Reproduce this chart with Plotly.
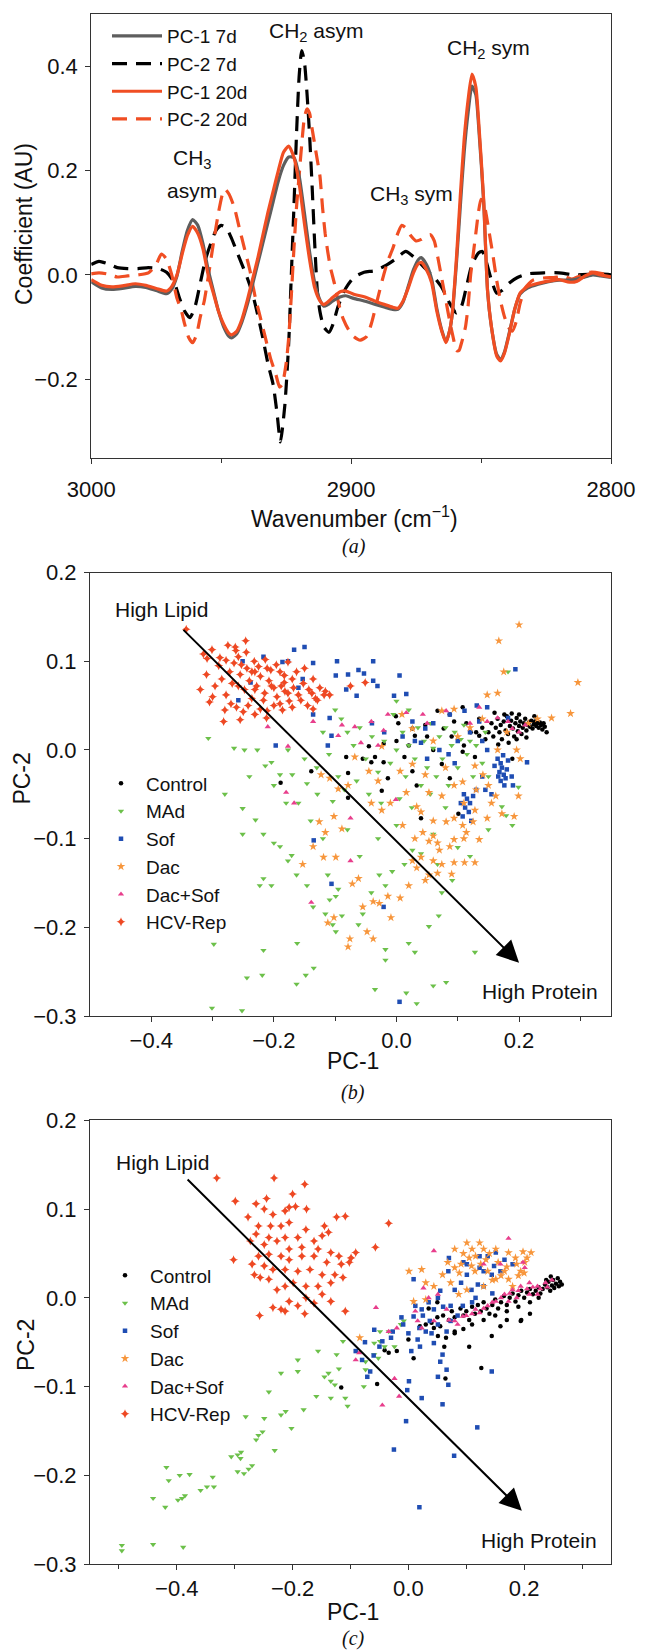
import plotly.graph_objects as go

FONT = "Liberation Sans, Arial, sans-serif"
W, H = 646, 1652

# ---------------- Panel (a): PCA loadings (wavenumber, coefficient) ----------------
pc1_7d = [(3000, -0.013), (2996, -0.025), (2992, -0.028), (2988, -0.026), (2983, -0.022), (2979, -0.024),
          (2975, -0.030), (2971, -0.036), (2969, -0.027), (2967, -0.002), (2965, 0.045), (2963, 0.085),
          (2961, 0.106), (2959, 0.095), (2957, 0.060), (2955, 0.010), (2953, -0.030), (2951, -0.070),
          (2949, -0.100), (2947, -0.118), (2946, -0.121), (2944, -0.113), (2942, -0.090), (2940, -0.058),
          (2938, -0.020), (2936, 0.020), (2934, 0.060), (2932, 0.100), (2930, 0.140), (2928, 0.180),
          (2926, 0.210), (2924, 0.226), (2922, 0.225), (2920, 0.190), (2918, 0.120), (2916, 0.045),
          (2914, -0.015), (2912, -0.048), (2910.5, -0.060), (2909, -0.057), (2907, -0.050), (2904, -0.042),
          (2902, -0.040), (2899, -0.045), (2895, -0.050), (2891, -0.056), (2887, -0.062), (2884, -0.066),
          (2882, -0.066), (2880, -0.052), (2878, -0.022), (2876, 0.010), (2874, 0.030), (2873, 0.033),
          (2871, 0.020), (2869, -0.008), (2867, -0.065), (2865, -0.108), (2863.5, -0.128), (2862, -0.105),
          (2861, -0.072), (2859.5, 0.020), (2858, 0.130), (2856.5, 0.235), (2855, 0.310), (2853.5, 0.362),
          (2852, 0.345), (2851, 0.290), (2849, 0.140), (2847.5, -0.030), (2846, -0.100), (2844, -0.152),
          (2842.5, -0.162), (2841, -0.148), (2839, -0.108), (2837, -0.065), (2835, -0.037), (2832, -0.025),
          (2828, -0.018), (2824, -0.013), (2820, -0.010), (2816, -0.010), (2813, -0.008), (2810, -0.004),
          (2807, 0.000), (2804, -0.002), (2800, -0.005)]

pc2_7d = [(3000, 0.020), (2997, 0.026), (2994, 0.022), (2990, 0.014), (2986, 0.012), (2982, 0.012),
          (2978, 0.014), (2974, 0.012), (2971, 0.005), (2968, -0.015), (2966, -0.045), (2964, -0.070),
          (2962, -0.082), (2960, -0.060), (2958, -0.015), (2956, 0.030), (2954, 0.060), (2952, 0.085),
          (2950, 0.095), (2948, 0.090), (2946, 0.070), (2944, 0.045), (2942, 0.020), (2940, -0.005),
          (2938, -0.035), (2936, -0.075), (2934, -0.120), (2932, -0.170), (2930, -0.210), (2928.5, -0.265),
          (2927.2, -0.320), (2925.5, -0.250), (2924, -0.130), (2923, 0.000), (2922, 0.130), (2921, 0.270),
          (2920, 0.380), (2919, 0.430), (2918, 0.410), (2917, 0.350), (2916, 0.270), (2915, 0.170),
          (2914, 0.060), (2913, -0.030), (2912, -0.070), (2910.5, -0.100), (2908.5, -0.110), (2907, -0.095),
          (2905, -0.060), (2902, -0.025), (2899, -0.005), (2895, 0.005), (2891, 0.008), (2887, 0.017),
          (2883, 0.030), (2879, 0.045), (2876, 0.035), (2872, 0.015), (2868, -0.005), (2865, -0.025),
          (2862, -0.055), (2859.5, -0.073), (2857.5, -0.060), (2855.5, -0.020), (2853.5, 0.020), (2851, 0.042),
          (2849.5, 0.045), (2848, 0.025), (2846, -0.010), (2844, -0.035), (2842, -0.030), (2839, -0.015),
          (2836, -0.005), (2832, 0.002), (2826, 0.004), (2820, 0.004), (2814, 0.000), (2808, 0.001),
          (2804, 0.002), (2800, 0.000)]

pc1_20d = [(3000, -0.009), (2996, -0.020), (2992, -0.023), (2988, -0.021), (2983, -0.017), (2979, -0.020),
           (2975, -0.026), (2971, -0.031), (2969, -0.022), (2967, 0.000), (2965, 0.040), (2963, 0.075),
           (2961, 0.093), (2959, 0.080), (2957, 0.050), (2955, 0.000), (2953, -0.035), (2951, -0.070),
           (2949, -0.095), (2947, -0.112), (2946, -0.115), (2944, -0.108), (2942, -0.085), (2940, -0.050),
           (2938, -0.010), (2936, 0.030), (2934, 0.075), (2932, 0.120), (2930, 0.160), (2928, 0.200),
           (2926, 0.235), (2924, 0.247), (2922, 0.225), (2920, 0.175), (2918, 0.100), (2916, 0.030),
           (2914, -0.025), (2912, -0.050), (2910.5, -0.057), (2909, -0.052), (2907, -0.043), (2904, -0.032),
           (2902, -0.031), (2899, -0.037), (2895, -0.042), (2891, -0.050), (2887, -0.057), (2884, -0.062),
           (2882, -0.064), (2880, -0.050), (2878, -0.025), (2876, 0.004), (2874, 0.022), (2873, 0.024),
           (2871, 0.010), (2869, -0.015), (2867, -0.070), (2865, -0.110), (2863.5, -0.130), (2862, -0.105),
           (2861, -0.070), (2859.5, 0.030), (2858, 0.150), (2856.5, 0.260), (2855, 0.335), (2853.5, 0.385),
           (2852, 0.360), (2851, 0.300), (2849, 0.145), (2847.5, -0.030), (2846, -0.100), (2844, -0.155),
           (2842.5, -0.165), (2841, -0.150), (2839, -0.110), (2837, -0.065), (2835, -0.035), (2832, -0.022),
           (2828, -0.016), (2824, -0.012), (2820, -0.009), (2816, -0.014), (2813, -0.012), (2810, -0.002),
           (2807, 0.004), (2804, 0.000), (2800, -0.004)]

pc2_20d = [(3000, 0.002), (2997, 0.004), (2994, 0.002), (2990, -0.004), (2986, -0.002), (2982, 0.000),
           (2978, 0.004), (2975, 0.020), (2973, 0.040), (2971, 0.030), (2969, 0.000), (2967, -0.045),
           (2965.5, -0.065), (2964, -0.095), (2962.5, -0.120), (2961, -0.130), (2959.5, -0.115), (2958, -0.080),
           (2956.5, -0.050), (2955, -0.005), (2953, 0.060), (2951, 0.120), (2949.5, 0.155), (2948.5, 0.164),
           (2947, 0.155), (2945, 0.130), (2943, 0.090), (2941, 0.050), (2939, 0.010), (2937, -0.040),
           (2935, -0.080), (2933, -0.120), (2931, -0.160), (2929, -0.190), (2927.5, -0.215), (2926.5, -0.210),
           (2925, -0.170), (2924, -0.120), (2923, -0.040), (2922, 0.050), (2921, 0.130), (2920, 0.190),
           (2919, 0.250), (2918, 0.300), (2917, 0.318), (2916, 0.310), (2915, 0.280), (2914, 0.250),
           (2913, 0.220), (2912, 0.190), (2911, 0.130), (2910, 0.080), (2909, 0.045), (2908, 0.015),
           (2907, -0.005), (2906, -0.025), (2905, -0.050), (2904, -0.070), (2903, -0.085), (2901, -0.105),
           (2899, -0.118), (2896.5, -0.125), (2894, -0.118), (2892, -0.090), (2890, -0.050), (2888, -0.010),
           (2886, 0.025), (2884, 0.050), (2882, 0.080), (2880.5, 0.095), (2879, 0.090), (2877, 0.075),
           (2875, 0.065), (2873, 0.068), (2871, 0.075), (2869.5, 0.077), (2868, 0.065), (2866.5, 0.030),
           (2865, -0.010), (2863.5, -0.050), (2862, -0.090), (2860.5, -0.125), (2859.5, -0.145), (2858.5, -0.145),
           (2857.5, -0.130), (2856, -0.100), (2855, -0.060), (2854, 0.000), (2853, 0.040), (2852, 0.080),
           (2851, 0.120), (2850, 0.145), (2849, 0.140), (2848, 0.115), (2847, 0.085), (2845.5, 0.040),
           (2844, -0.010), (2842.5, -0.050), (2841, -0.080), (2839.5, -0.100), (2838, -0.108), (2836.5, -0.090),
           (2835, -0.055), (2833, -0.025), (2830, -0.010), (2826, -0.006), (2822, -0.005), (2818, -0.003),
           (2815, -0.008), (2812, -0.002), (2808, 0.005), (2804, 0.003), (2800, -0.003)]

# ---------------- Panel (b): scores (PC-1, PC-2) ----------------
control_b = [(0.150, 0.020), (0.155, 0.030), (0.158, 0.015), (0.162, 0.025), (0.165, 0.035), (0.168, 0.020),
             (0.170, 0.028), (0.172, 0.012), (0.175, 0.032), (0.178, 0.022), (0.180, 0.038), (0.182, 0.018),
             (0.185, 0.027), (0.187, 0.033), (0.190, 0.024), (0.192, 0.015), (0.194, 0.030), (0.196, 0.036),
             (0.198, 0.021), (0.200, 0.027), (0.202, 0.032), (0.204, 0.018), (0.206, 0.025), (0.208, 0.030),
             (0.210, 0.035), (0.212, 0.022), (0.214, 0.028), (0.216, 0.031), (0.218, 0.026), (0.220, 0.033),
             (0.222, 0.024), (0.224, 0.029), (0.226, 0.032), (0.228, 0.027), (0.230, 0.030), (0.232, 0.025),
             (0.234, 0.031), (0.236, 0.028), (0.238, 0.023), (0.240, 0.030), (0.242, 0.026), (0.245, 0.020),
             (0.188, 0.041), (0.176, 0.040), (0.196, 0.012), (0.183, 0.008), (0.212, 0.014), (0.166, 0.006),
             (0.140, 0.025), (0.145, 0.012), (0.135, 0.035), (0.130, 0.020), (0.160, 0.042), (0.200, 0.040),
             (0.225, 0.038), (-0.082, -0.008), (-0.041, -0.014), (-0.035, -0.008), (-0.021, -0.014),
             (-0.045, 0.004), (-0.021, 0.007), (-0.001, 0.038), (0.003, 0.030), (0.026, 0.024), (0.030, 0.016),
             (0.047, 0.028), (0.067, 0.044), (0.077, 0.024), (0.087, 0.040), (0.094, 0.032), (0.108, 0.048),
             (0.114, 0.030), (0.121, 0.020), (0.135, 0.016), (0.060, 0.000), (0.074, -0.016), (0.087, -0.032),
             (0.033, -0.040), (0.040, -0.077), (0.101, -0.072), (-0.139, -0.024), (-0.189, -0.037),
             (-0.079, -0.026), (-0.079, -0.054), (-0.024, -0.046), (-0.014, -0.032), (0.013, -0.008),
             (0.026, -0.024), (0.108, -0.002), (0.128, -0.008), (0.189, -0.010), (0.000, 0.010), (0.020, 0.005),
             (0.050, 0.015), (0.090, 0.015), (0.110, 0.005), (-0.055, -0.010)]

mad_b = [(-0.307, 0.013), (-0.265, 0.002), (-0.248, 0.000), (-0.227, 0.000), (-0.204, -0.014), (-0.177, 0.000),
         (-0.214, -0.018), (-0.190, -0.028), (-0.170, -0.028), (-0.146, -0.038), (-0.129, -0.050), (-0.104, -0.058),
         (-0.251, -0.066), (-0.230, -0.079), (-0.251, -0.095), (-0.217, -0.095), (-0.200, -0.105), (-0.190, -0.109),
         (-0.171, -0.119), (-0.177, -0.125), (-0.163, -0.141), (-0.204, -0.153), (-0.217, -0.145), (-0.223, -0.153),
         (-0.146, -0.153), (-0.112, -0.141), (-0.095, -0.157), (-0.099, -0.165), (-0.109, -0.169), (-0.136, -0.177),
         (-0.116, -0.185), (-0.089, -0.187), (-0.104, -0.197), (-0.099, -0.205), (-0.062, -0.197), (-0.055, -0.185),
         (-0.041, -0.161), (-0.028, -0.141), (-0.018, -0.153), (-0.007, -0.137), (0.013, -0.129), (0.026, -0.113),
         (0.040, -0.117), (0.067, -0.129), (0.091, -0.147), (0.074, -0.161), (0.053, -0.199), (0.030, -0.228),
         (0.020, -0.218), (-0.018, -0.225), (0.016, -0.274), (-0.035, -0.270), (-0.018, -0.237), (0.060, -0.266),
         (0.081, -0.262), (0.033, -0.286), (0.128, -0.228), (0.069, -0.187), (-0.298, -0.219), (-0.244, -0.257),
         (-0.219, -0.254), (-0.217, -0.226), (-0.162, -0.218), (-0.163, -0.264), (-0.135, -0.246), (-0.148, -0.254),
         (-0.301, -0.291), (-0.252, -0.294), (0.189, -0.085), (0.179, -0.074), (0.172, -0.064), (0.199, -0.042),
         (0.182, 0.088), (-0.090, 0.035), (-0.080, 0.020), (-0.070, 0.005), (-0.060, 0.025), (-0.050, -0.010),
         (-0.040, 0.015), (-0.030, -0.025), (-0.020, 0.010), (-0.010, -0.015), (0.000, 0.000), (0.010, 0.020),
         (0.015, -0.030), (0.020, 0.005), (0.030, -0.010), (0.035, 0.025), (0.040, -0.040), (0.045, 0.010),
         (0.050, -0.020), (0.055, 0.030), (0.060, 0.002), (0.065, -0.030), (0.070, 0.015), (0.075, -0.010),
         (0.080, 0.025), (0.085, -0.040), (0.090, 0.005), (0.095, 0.020), (0.100, -0.020), (0.105, 0.012),
         (0.110, 0.028), (0.115, -0.005), (0.120, 0.010), (0.125, -0.030), (0.130, 0.005), (0.140, -0.015),
         (0.145, 0.020), (0.150, -0.030), (-0.095, -0.030), (-0.085, -0.045), (-0.065, -0.035), (-0.045, -0.050),
         (-0.025, -0.060), (0.005, -0.055), (0.025, -0.065), (0.055, -0.050), (0.080, -0.065), (-0.120, 0.020),
         (-0.110, -0.005), (-0.130, -0.020), (-0.100, 0.045), (0.000, 0.055), (-0.005, 0.040), (0.020, 0.045),
         (-0.150, -0.010), (-0.160, -0.060), (-0.140, -0.080), (-0.120, -0.100), (-0.080, -0.090), (-0.060, -0.120),
         (-0.030, -0.100), (0.000, -0.085), (0.060, -0.095), (0.100, -0.110), (0.150, -0.090), (0.120, -0.120),
         (-0.180, -0.060), (-0.200, -0.040), (-0.240, -0.030), (-0.280, -0.050)]

sof_b = [(-0.167, 0.113), (-0.150, 0.116), (-0.177, 0.100), (-0.186, 0.099), (-0.217, 0.105), (-0.251, 0.100),
         (-0.136, 0.098), (-0.097, 0.100), (-0.099, 0.084), (-0.079, 0.085), (-0.062, 0.090), (-0.053, 0.086),
         (-0.038, 0.100), (-0.038, 0.078), (-0.031, 0.072), (0.005, 0.084), (0.016, 0.063), (-0.004, 0.061),
         (-0.065, 0.061), (-0.082, 0.068), (-0.160, 0.070), (-0.153, 0.080), (-0.238, 0.076), (-0.258, 0.056),
         (-0.136, 0.040), (-0.112, 0.005), (-0.106, 0.016), (-0.109, 0.036), (-0.197, 0.005), (0.026, 0.032),
         (0.087, 0.040), (0.111, 0.044), (0.131, 0.050), (0.148, 0.048), (0.194, 0.091), (0.135, 0.032),
         (0.182, 0.036), (0.047, 0.024), (0.040, 0.008), (0.070, 0.000), (0.148, 0.000), (0.213, -0.014),
         (0.165, -0.010), (0.170, -0.015), (0.172, -0.020), (0.168, -0.025), (0.175, -0.028), (0.178, -0.032),
         (0.170, -0.035), (0.176, -0.040), (0.166, -0.030), (0.180, -0.022), (0.160, -0.018), (0.182, -0.012),
         (0.174, -0.006), (0.188, -0.030), (0.190, -0.040), (0.110, -0.050), (0.115, -0.055), (0.120, -0.060),
         (0.112, -0.065), (0.118, -0.070), (0.108, -0.075), (0.122, -0.080), (0.125, -0.052), (0.130, -0.045),
         (0.105, -0.060), (0.145, -0.045), (0.155, -0.050), (0.140, -0.030), (0.095, -0.015), (0.085, -0.005),
         (0.050, -0.010), (0.030, 0.010), (0.010, 0.015), (-0.020, 0.020), (-0.040, 0.030), (0.060, 0.030),
         (0.120, 0.020), (0.140, 0.010), (0.100, 0.010), (-0.135, -0.102), (-0.106, -0.151), (-0.021, -0.177),
         (0.005, -0.284)]

dac_b = [(0.200, 0.141), (0.167, 0.123), (0.175, 0.088), (0.296, 0.076), (0.284, 0.041), (0.253, 0.036),
         (0.165, 0.064), (0.148, 0.062), (0.094, 0.046), (0.074, 0.044), (0.026, 0.024), (0.009, 0.040),
         (-0.024, 0.004), (0.006, -0.024), (0.026, -0.016), (0.047, -0.028), (0.016, -0.048), (0.033, -0.064),
         (0.053, -0.048), (0.074, -0.052), (0.094, -0.040), (0.108, -0.036), (0.128, -0.018), (0.141, -0.028),
         (0.165, 0.000), (0.196, 0.000), (0.202, -0.010), (0.199, -0.052), (0.192, -0.075), (0.162, -0.052),
         (0.155, -0.060), (0.128, -0.068), (0.114, -0.093), (0.108, -0.085), (0.094, -0.077), (0.081, -0.081),
         (0.060, -0.097), (0.043, -0.093), (0.053, -0.103), (0.067, -0.105), (0.094, -0.101), (0.135, -0.101),
         (0.070, -0.113), (0.087, -0.109), (0.040, -0.121), (0.060, -0.125), (0.026, -0.125), (0.033, -0.133),
         (0.074, -0.129), (0.094, -0.127), (0.111, -0.127), (0.128, -0.127), (0.053, -0.141), (0.067, -0.139),
         (0.020, -0.153), (0.047, -0.147), (0.006, -0.167), (-0.014, -0.165), (-0.028, -0.173), (-0.038, -0.171),
         (-0.072, -0.151), (-0.062, -0.145), (-0.055, -0.177), (-0.102, -0.189), (-0.112, -0.195), (-0.076, -0.213),
         (-0.079, -0.222), (-0.048, -0.205), (-0.038, -0.213), (-0.009, -0.189), (-0.126, -0.081), (-0.102, -0.075),
         (-0.089, -0.089), (-0.116, -0.093), (-0.136, -0.109), (-0.153, -0.129), (-0.119, -0.121), (-0.099, -0.121),
         (-0.123, -0.028), (-0.109, -0.032), (-0.095, -0.044), (-0.079, -0.040), (-0.041, -0.060), (-0.024, -0.068),
         (-0.068, -0.008), (-0.045, -0.024), (0.125, -0.081), (0.148, -0.077), (0.172, -0.072), (0.120, 0.025),
         (0.140, 0.035), (0.100, 0.015), (0.060, 0.010), (0.180, 0.020), (0.215, 0.030), (0.230, 0.035),
         (0.110, -0.060), (0.130, -0.045), (0.150, -0.040), (0.080, -0.020), (0.040, -0.070), (0.060, -0.080),
         (0.030, -0.100), (0.010, -0.085), (-0.010, -0.060), (-0.030, -0.035), (0.090, -0.140), (0.110, -0.100)]

dacsof_b = [(-0.210, 0.026), (-0.177, 0.004), (-0.180, -0.048), (-0.167, -0.060), (-0.136, 0.032), (-0.089, 0.028),
            (-0.068, 0.026), (-0.041, 0.032), (-0.021, 0.022), (-0.014, 0.040), (0.043, 0.040), (0.050, 0.030),
            (0.135, 0.048), (0.165, 0.036), (0.182, 0.032), (0.189, 0.024), (-0.058, 0.008), (-0.075, -0.077),
            (-0.001, -0.056), (0.081, 0.044), (0.148, 0.032), (-0.139, -0.172), (-0.075, -0.125), (-0.095, 0.016),
            (0.016, 0.042), (0.200, 0.020), (0.210, 0.028), (0.120, 0.030), (-0.030, 0.005)]

hcv_b = [(-0.343, 0.136), (-0.246, 0.123), (-0.263, 0.116), (-0.301, 0.113), (-0.315, 0.108), (-0.309, 0.103),
         (-0.278, 0.101), (-0.253, 0.096), (-0.244, 0.092), (-0.231, 0.088), (-0.211, 0.092), (-0.177, 0.099),
         (-0.163, 0.088), (-0.183, 0.084), (-0.150, 0.092), (-0.136, 0.080), (-0.116, 0.066), (-0.109, 0.062),
         (-0.129, 0.056), (-0.143, 0.068), (-0.282, 0.032), (-0.320, 0.068), (-0.305, 0.054), (-0.261, 0.048),
         (-0.231, 0.040), (-0.211, 0.044), (-0.190, 0.052), (-0.217, 0.056), (-0.177, 0.064), (-0.156, 0.056),
         (-0.136, 0.046), (-0.075, 0.072), (-0.051, 0.076), (-0.258, 0.072), (-0.231, 0.068), (-0.204, 0.072),
         (-0.183, 0.076), (-0.170, 0.080), (-0.290, 0.095), (-0.285, 0.080), (-0.272, 0.088), (-0.268, 0.075),
         (-0.255, 0.085), (-0.248, 0.068), (-0.240, 0.078), (-0.236, 0.058), (-0.228, 0.072), (-0.222, 0.083),
         (-0.215, 0.064), (-0.208, 0.078), (-0.200, 0.070), (-0.195, 0.060), (-0.188, 0.072), (-0.182, 0.066),
         (-0.175, 0.055), (-0.168, 0.070), (-0.160, 0.062), (-0.152, 0.075), (-0.145, 0.050), (-0.138, 0.064),
         (-0.132, 0.058), (-0.125, 0.070), (-0.296, 0.072), (-0.310, 0.085), (-0.300, 0.060), (-0.278, 0.062),
         (-0.265, 0.098), (-0.258, 0.105), (-0.245, 0.110), (-0.232, 0.100), (-0.225, 0.094), (-0.214, 0.102),
         (-0.205, 0.090), (-0.196, 0.096), (-0.190, 0.088), (-0.280, 0.045), (-0.270, 0.052), (-0.250, 0.043),
         (-0.242, 0.050), (-0.222, 0.046), (-0.200, 0.050), (-0.186, 0.045), (-0.170, 0.048), (-0.255, 0.034),
         (-0.212, 0.036), (-0.236, 0.088), (-0.262, 0.112), (-0.288, 0.104), (-0.275, 0.118), (-0.118, 0.062)]

# ---------------- Panel (c): scores (PC-1, PC-2) ----------------
control_c = [(0.020, -0.032), (0.030, -0.030), (0.040, -0.028), (0.050, -0.022), (0.055, -0.032), (0.060, -0.020),
             (0.070, -0.025), (0.075, -0.015), (0.080, -0.022), (0.090, -0.012), (0.095, -0.020), (0.100, -0.015),
             (0.105, -0.025), (0.110, -0.010), (0.115, -0.018), (0.120, -0.008), (0.125, -0.015), (0.130, -0.005),
             (0.135, -0.012), (0.140, -0.018), (0.145, -0.008), (0.150, -0.002), (0.155, -0.012), (0.160, -0.005),
             (0.165, 0.002), (0.170, -0.008), (0.175, 0.000), (0.180, 0.005), (0.185, -0.004), (0.190, 0.003),
             (0.195, 0.008), (0.200, 0.000), (0.205, 0.006), (0.210, 0.010), (0.215, 0.004), (0.220, 0.008),
             (0.225, 0.012), (0.228, 0.005), (0.232, 0.010), (0.236, 0.015), (0.240, 0.012), (0.242, 0.018),
             (0.245, 0.008), (0.248, 0.014), (0.250, 0.020), (0.252, 0.011), (0.255, 0.016), (0.258, 0.022),
             (0.260, 0.013), (0.262, 0.018), (0.265, 0.015), (0.246, 0.024), (0.238, 0.020), (0.225, 0.000),
             (0.210, -0.005), (0.190, -0.010), (0.170, -0.015), (0.150, -0.020), (0.130, -0.025), (0.110, -0.030),
             (0.095, -0.035), (0.080, -0.040), (0.065, -0.045), (0.210, -0.018), (0.195, -0.025), (0.170, -0.025),
             (0.050, -0.005), (0.035, -0.012), (-0.116, -0.101), (-0.054, -0.097), (0.064, -0.091), (0.126, -0.079),
             (0.009, -0.068), (0.000, -0.047), (-0.020, -0.060), (-0.034, -0.062), (-0.041, -0.059), (0.051, -0.043),
             (0.062, -0.055), (0.105, -0.055), (0.144, -0.043), (0.159, -0.032), (0.194, -0.026), (0.044, -0.034),
             (0.080, -0.038)]

mad_c = [(-0.495, -0.279), (-0.495, -0.285), (-0.441, -0.278), (-0.389, -0.281), (-0.441, -0.226), (-0.420, -0.236),
         (-0.418, -0.191), (-0.414, -0.206), (-0.398, -0.228), (-0.391, -0.226), (-0.386, -0.223), (-0.378, -0.199),
         (-0.395, -0.200), (-0.359, -0.217), (-0.348, -0.213), (-0.338, -0.202), (-0.336, -0.213), (-0.306, -0.179),
         (-0.295, -0.177), (-0.290, -0.181), (-0.289, -0.174), (-0.295, -0.196), (-0.284, -0.198), (-0.270, -0.189),
         (-0.276, -0.193), (-0.281, -0.134), (-0.259, -0.155), (-0.263, -0.160), (-0.252, -0.151), (-0.249, -0.136),
         (-0.241, -0.106), (-0.231, -0.172), (-0.220, -0.132), (-0.212, -0.128), (-0.202, -0.147), (-0.181, -0.126),
         (-0.220, -0.085), (-0.191, -0.070), (-0.191, -0.083), (-0.159, -0.111), (-0.156, -0.060), (-0.145, -0.089),
         (-0.138, -0.085), (-0.134, -0.094), (-0.134, -0.113), (-0.120, -0.080), (-0.127, -0.098), (-0.109, -0.113),
         (-0.105, -0.122), (-0.113, -0.049), (-0.124, -0.064), (-0.077, -0.100), (-0.074, -0.081), (-0.074, -0.072),
         (-0.059, -0.064), (-0.059, -0.051), (-0.049, -0.038), (-0.034, -0.038), (-0.052, -0.068), (-0.041, -0.055),
         (-0.024, -0.055), (-0.013, -0.030), (-0.008, -0.026), (-0.049, -0.049)]

sof_c = [(0.019, -0.236), (-0.025, -0.171), (0.079, -0.178), (0.119, -0.146), (-0.004, -0.139), (0.059, -0.120),
         (0.144, -0.083), (-0.002, -0.104), (0.001, -0.094), (0.023, -0.113), (0.069, -0.098), (0.051, -0.089),
         (-0.071, -0.089), (-0.066, -0.083), (-0.091, -0.060), (-0.059, -0.036), (-0.045, -0.049), (-0.027, -0.038),
         (-0.009, -0.030), (0.009, 0.021), (0.012, -0.009), (0.023, -0.013), (0.037, -0.026), (0.051, -0.030),
         (0.066, -0.038), (0.044, -0.013), (0.051, 0.000), (0.073, -0.009), (0.080, 0.009), (0.091, 0.017),
         (0.101, 0.026), (0.123, 0.034), (0.137, 0.047), (0.151, 0.051), (0.166, 0.043), (0.159, 0.030),
         (0.144, 0.026), (0.130, 0.013), (0.116, 0.000), (0.109, 0.009), (0.094, -0.009), (0.073, -0.026),
         (0.030, -0.038), (0.016, -0.047), (0.044, -0.051), (0.059, -0.064), (0.055, -0.072), (0.066, -0.081),
         (-0.012, -0.022), (0.009, -0.021), (0.019, -0.034), (0.035, -0.005), (0.055, 0.008), (0.069, 0.030),
         (0.101, 0.038), (0.123, 0.047), (0.148, 0.036), (0.180, 0.038), (-0.050, -0.055), (-0.030, -0.045),
         (0.000, -0.040), (0.025, -0.020), (0.040, -0.040), (0.085, -0.020), (0.110, -0.005), (0.130, 0.030),
         (0.095, 0.040), (0.070, 0.045), (0.120, 0.015), (0.145, 0.005), (0.060, -0.010), (0.005, -0.060),
         (-0.060, -0.065), (-0.075, -0.050), (-0.080, -0.070), (0.020, -0.055)]

dac_c = [(0.080, 0.055), (0.101, 0.062), (0.123, 0.062), (0.091, 0.038), (0.109, 0.036), (0.080, 0.034),
         (0.116, 0.047), (0.134, 0.043), (0.151, 0.055), (0.173, 0.051), (0.198, 0.052), (0.212, 0.051),
         (0.187, 0.038), (0.166, 0.030), (0.151, 0.021), (0.137, 0.030), (0.173, 0.021), (0.194, 0.030),
         (0.059, 0.026), (0.044, 0.013), (0.030, 0.017), (0.023, 0.032), (0.001, 0.030), (0.030, -0.002),
         (0.009, -0.004), (0.201, 0.040), (0.180, 0.013), (0.130, 0.013), (0.101, 0.009), (0.087, 0.004),
         (0.073, 0.017), (-0.084, -0.045), (0.095, 0.050), (0.105, 0.045), (0.115, 0.030), (0.125, 0.038),
         (0.140, 0.050), (0.155, 0.040), (0.160, 0.025), (0.170, 0.035), (0.185, 0.045), (0.190, 0.025),
         (0.145, 0.020), (0.130, 0.055), (0.110, 0.055), (0.088, 0.028), (0.200, 0.028), (0.205, 0.045),
         (0.068, 0.040)]

dacsof_c = [(0.173, 0.067), (0.044, 0.053), (-0.056, -0.011), (0.026, 0.011), (0.051, 0.004), (0.066, -0.013),
            (0.080, -0.026), (0.094, -0.021), (0.116, -0.013), (0.137, -0.009), (0.151, -0.004), (0.166, 0.004),
            (0.180, 0.009), (0.194, 0.013), (0.209, 0.017), (0.223, 0.013), (0.237, 0.017), (0.209, 0.004),
            (0.187, 0.000), (0.201, 0.034), (0.159, 0.038), (0.198, 0.040), (0.044, -0.026), (0.023, -0.034),
            (-0.020, -0.034), (-0.034, -0.038), (-0.091, -0.070), (-0.085, -0.062), (-0.024, -0.091), (-0.045, -0.121),
            (-0.016, -0.111), (0.016, -0.026), (0.130, 0.038), (0.123, -0.017), (0.173, -0.004), (0.223, 0.004),
            (0.100, -0.020), (0.130, -0.012), (0.145, -0.005), (0.160, 0.000), (0.175, 0.005), (0.190, 0.008),
            (0.205, 0.010), (0.215, 0.012), (0.228, 0.010), (0.240, 0.012), (0.110, -0.018), (0.085, -0.030),
            (0.070, -0.025), (0.248, 0.020), (0.035, 0.000), (0.012, -0.015)]

hcv_c = [(-0.331, 0.135), (-0.232, 0.135), (-0.179, 0.128), (-0.200, 0.117), (-0.245, 0.112), (-0.299, 0.109),
         (-0.263, 0.106), (-0.249, 0.100), (-0.277, 0.091), (-0.234, 0.094), (-0.213, 0.098), (-0.206, 0.102),
         (-0.195, 0.103), (-0.176, 0.100), (-0.124, 0.091), (-0.109, 0.092), (-0.034, 0.084), (-0.259, 0.081),
         (-0.238, 0.081), (-0.220, 0.081), (-0.206, 0.085), (-0.177, 0.077), (-0.145, 0.081), (-0.138, 0.074),
         (-0.149, 0.070), (-0.191, 0.068), (-0.213, 0.068), (-0.241, 0.068), (-0.263, 0.072), (-0.273, 0.064),
         (-0.249, 0.060), (-0.227, 0.064), (-0.206, 0.055), (-0.184, 0.057), (-0.163, 0.064), (-0.156, 0.055),
         (-0.134, 0.051), (-0.120, 0.047), (-0.099, 0.045), (-0.091, 0.051), (-0.102, 0.040), (-0.116, 0.038),
         (-0.141, 0.040), (-0.163, 0.047), (-0.184, 0.047), (-0.206, 0.043), (-0.220, 0.047), (-0.241, 0.049),
         (-0.259, 0.047), (-0.302, 0.043), (-0.270, 0.038), (-0.249, 0.036), (-0.234, 0.032), (-0.213, 0.032),
         (-0.191, 0.030), (-0.170, 0.032), (-0.149, 0.026), (-0.127, 0.026), (-0.113, 0.023), (-0.134, 0.017),
         (-0.156, 0.013), (-0.177, 0.013), (-0.199, 0.017), (-0.213, 0.013), (-0.227, 0.009), (-0.241, 0.021),
         (-0.256, 0.023), (-0.266, 0.026), (-0.057, 0.057), (-0.206, -0.004), (-0.191, -0.009), (-0.163, -0.006),
         (-0.149, 0.004), (-0.177, 0.000), (-0.234, -0.011), (-0.220, -0.013), (-0.257, -0.020), (-0.213, -0.015),
         (-0.179, -0.018), (-0.109, -0.015), (-0.134, -0.004)]

# ---------------- styles ----------------
C_GRAY, C_BLACK, C_ORANGE = "#5e5e5e", "#000000", "#f04e23"
groups = [  # name, color, symbol, size
    ("Control", "#000000", "circle", 4.5),
    ("MAd", "#6cc04a", "triangle-down", 5.5),
    ("Sof", "#1f4db3", "square", 4.5),
    ("Dac", "#f7963c", "star", 6.5),
    ("Dac+Sof", "#e83e8c", "triangle-up", 5.5),
    ("HCV-Rep", "#ee4823", "star-diamond", 6.5),
]
data_b = [control_b, mad_b, sof_b, dac_b, dacsof_b, hcv_b]
data_c = [control_c, mad_c, sof_c, dac_c, dacsof_c, hcv_c]

fig = go.Figure()

def xs(p):
    return [a for a, _ in p]

def ys(p):
    return [b for _, b in p]

curves = [  # drawn order: dashed first, solid on top
    ("PC-2 7d", pc2_7d, C_BLACK, "15px,9px", 2),
    ("PC-2 20d", pc2_20d, C_ORANGE, "15px,9px", 4),
    ("PC-1 7d", pc1_7d, C_GRAY, "solid", 1),
    ("PC-1 20d", pc1_20d, C_ORANGE, "solid", 3),
]
for name, pts, col, dash, rank in curves:
    fig.add_trace(go.Scatter(x=xs(pts), y=ys(pts), mode="lines", name=name, legendrank=rank,
                             line=dict(color=col, width=3.2, dash=dash, shape="spline", smoothing=0.6),
                             xaxis="x", yaxis="y", legend="legend"))

for data, ax, ay, lg in [(data_b, "x2", "y2", "legend2"), (data_c, "x3", "y3", "legend3")]:
    for (name, col, sym, size), pts in zip(groups, data):
        fig.add_trace(go.Scatter(x=xs(pts), y=ys(pts), mode="markers", name=name,
                                 marker=dict(color=col, symbol=sym, size=size, line=dict(width=0)),
                                 xaxis=ax, yaxis=ay, legend=lg))

def py(px):
    return 1 - px / H

def pxx(px):
    return px / W

axis_common = dict(showgrid=False, zeroline=False, showline=True, mirror=True, linecolor="#333",
                   linewidth=1, ticks="outside", ticklen=5, tickcolor="#333", tickwidth=1, automargin=False,
                   tickfont=dict(family=FONT, size=22, color="#111"))

fig.update_layout(
    width=W, height=H, margin=dict(l=0, r=0, t=0, b=0, pad=0, autoexpand=False),
    paper_bgcolor="white", plot_bgcolor="white",
    font=dict(family=FONT, color="#111"),
    xaxis=dict(domain=[pxx(91.2), pxx(611)], range=[3000, 2800], anchor="y",
               tickvals=[3000, 2900, 2800], ticklabelstandoff=7,
               minor=dict(tickvals=[2950, 2850], ticks="outside", ticklen=4, tickcolor="#333"), **axis_common),
    yaxis=dict(domain=[py(457.5), py(14)], range=[-0.35, 0.5], anchor="x",
               tickvals=[-0.2, 0, 0.2, 0.4], tickformat=".1f", ticklabelstandoff=3, **axis_common),
    xaxis2=dict(domain=[pxx(90), pxx(611)], range=[-0.5, 0.35], anchor="y2",
                tickvals=[-0.4, -0.2, 0, 0.2], tickformat=".1f",
                minor=dict(tickvals=[-0.3, -0.1, 0.1, 0.3], ticks="outside", ticklen=4, tickcolor="#333"),
                **axis_common),
    yaxis2=dict(domain=[py(1016), py(572.5)], range=[-0.3, 0.2], anchor="x2",
                tickvals=[-0.3, -0.2, -0.1, 0, 0.1, 0.2], tickformat=".1f", ticklabelstandoff=3, **axis_common),
    xaxis3=dict(domain=[pxx(90), pxx(611)], range=[-0.55, 0.35], anchor="y3",
                tickvals=[-0.4, -0.2, 0, 0.2], tickformat=".1f",
                minor=dict(tickvals=[-0.5, -0.3, -0.1, 0.1, 0.3], ticks="outside", ticklen=4, tickcolor="#333"),
                **axis_common),
    yaxis3=dict(domain=[py(1564), py(1120.4)], range=[-0.3, 0.2], anchor="x3",
                tickvals=[-0.3, -0.2, -0.1, 0, 0.1, 0.2], tickformat=".1f", ticklabelstandoff=3, **axis_common),
    legend=dict(x=pxx(107), y=py(17.0), xanchor="left", yanchor="top", bgcolor="rgba(0,0,0,0)",
                font=dict(family=FONT, size=19, color="#111"), itemwidth=50, traceorder="normal"),
    legend2=dict(x=pxx(96), y=py(764.5), xanchor="left", yanchor="top", bgcolor="rgba(0,0,0,0)",
                 font=dict(family=FONT, size=19, color="#111"), itemwidth=40),
    legend3=dict(x=pxx(100), y=py(1256.5), xanchor="left", yanchor="top", bgcolor="rgba(0,0,0,0)",
                 font=dict(family=FONT, size=19, color="#111"), itemwidth=40),
)

ann = []
def text_ann(txt, x, y, size=21, xref="paper", yref="paper", angle=0, family=FONT, italic=False):
    ann.append(dict(text=txt, x=x, y=y, xref=xref, yref=yref, showarrow=False, textangle=angle,
                    xanchor="center", yanchor="middle",
                    font=dict(family=family, size=size, color="#111", style="italic" if italic else "normal")))

SERIF = "Liberation Serif, Times New Roman, serif"
# panel (a) labels
text_ann("CH<sub>2</sub> asym", 2913.2, 0.465, xref="x", yref="y")
text_ann("CH<sub>2</sub> sym", 2847.2, 0.433, xref="x", yref="y")
text_ann("CH<sub>3</sub>", 2961.2, 0.222, xref="x", yref="y")
text_ann("asym", 2961.2, 0.161, xref="x", yref="y")
text_ann("CH<sub>3</sub> sym", 2876.6, 0.154, xref="x", yref="y")
text_ann("Coefficient (AU)", pxx(24), py(224), size=23, angle=-90)
text_ann("Wavenumber (cm<sup>\u22121</sup>)", pxx(354), py(517), size=23)
text_ann("(a)", pxx(354), py(546), size=20, family=SERIF, italic=True)

# panel (b)
text_ann("High Lipid", -0.383, 0.158, xref="x2", yref="y2")
text_ann("High Protein", 0.234, -0.272, xref="x2", yref="y2")
text_ann("PC-2", pxx(22), py(778.6), size=23, angle=-90)
text_ann("PC-1", pxx(353), py(1061), size=23)
text_ann("(b)", pxx(353), py(1092), size=20, family=SERIF, italic=True)

# panel (c)
text_ann("High Lipid", -0.424, 0.153, xref="x3", yref="y3")
text_ann("High Protein", 0.226, -0.274, xref="x3", yref="y3")
text_ann("PC-2", pxx(26), py(1345), size=23, angle=-90)
text_ann("PC-1", pxx(353), py(1612), size=23)
text_ann("(c)", pxx(353), py(1638), size=20, family=SERIF, italic=True)

# arrows
arrow_b = ((-0.35, 0.137), (0.20, -0.240))
arrow_c = ((-0.384, 0.135), (0.196, -0.240))
for (tail, head), xr, yr in [(arrow_b, "x2", "y2"), (arrow_c, "x3", "y3")]:
    ann.append(dict(x=head[0], y=head[1], ax=tail[0], ay=tail[1], xref=xr, yref=yr, axref=xr, ayref=yr,
                    text="", showarrow=True, arrowhead=2, arrowsize=2.2, arrowwidth=2, arrowcolor="#000"))

fig.update_layout(annotations=ann)
fig.write_html("out.html", config={"displayModeBar": False, "staticPlot": False},
               post_script="document.body.style.margin='0';document.body.style.overflow='hidden';")
